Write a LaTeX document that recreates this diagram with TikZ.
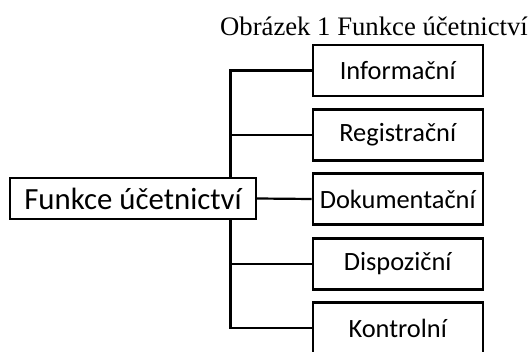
\documentclass[tikz,border=0pt]{standalone}
\usepackage{fontspec}
\setmainfont{Carlito}
\newfontfamily\titlefont{Liberation Serif}
\begin{document}
\begin{tikzpicture}[x=1pt,y=-1pt,
  fbox/.style={draw,line width=2.2pt,minimum width=170pt,minimum height=51pt,inner sep=0pt,font=\fontsize{26.4}{31}\selectfont},
  cbox/.style={draw,line width=2.2pt,minimum width=246pt,minimum height=41pt,inner sep=0pt,font=\fontsize{30.8}{36}\selectfont},
  conn/.style={line width=2.2pt}]
\useasboundingbox (0,0) rectangle (529,352);
\node[anchor=base east,font=\titlefont\fontsize{26.7}{32}\selectfont,inner sep=0pt] (title) at (528,36) {Obrázek 1 Funkce účetnictví};
\node[cbox] (c) at (133,198.5) {Funkce účetnictví};
\node[fbox] (b1) at (397.7,70.5) {Informační};
\node[fbox] (b2) at (397.7,135) {Registrační};
\node[fbox] (b3) at (397.7,199) {Dokumentační};
\node[fbox] (b4) at (397.7,264) {Dispoziční};
\node[fbox] (b5) at (397.7,328) {Kontrolní};
\coordinate (tx) at (230.5,0);
\draw[conn] (b1.west) -| (tx |- c.north);
\draw[conn] (tx |- c.south) |- (b5.west);
\draw[conn] (b2.west) -- (b2.west -| tx);
\draw[conn] (b4.west) -- (b4.west -| tx);
\draw[conn] (c.east) -- (b3.west);
\end{tikzpicture}
\end{document}
